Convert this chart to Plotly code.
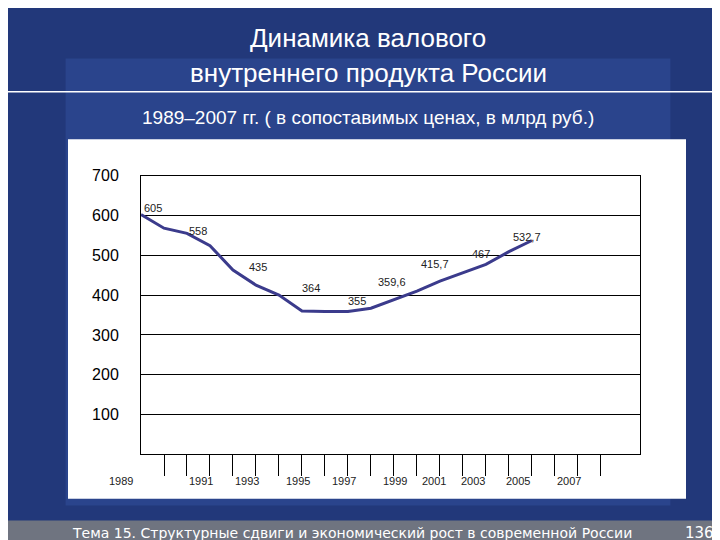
import plotly.graph_objects as go

years = list(range(1989, 2007))
gdp = [602, 568, 555, 524, 463, 425, 400, 360, 359, 359, 367, 389, 410, 435, 455, 477, 509, 537]

label_text = ["605", "558", "435", "364", "355", "359,6", "415,7", "467", "532,7"]
label_x = [1989.5, 1991.5, 1994.1, 1996.4, 1998.4, 1999.9, 2001.8, 2003.8, 2005.8]
label_y = [618, 562, 470, 418, 385, 433, 477, 503, 545]

year_labels = ["1989", "1991", "1993", "1995", "1997", "1999", "2001", "2003", "2005", "2007"]
year_label_px = [113, 193, 239, 290, 336, 387, 426, 465, 510, 561]

fig = go.Figure()
fig.add_trace(go.Scatter(x=years, y=gdp, mode="lines",
                         line=dict(color="#3b3b8c", width=3), hoverinfo="skip"))

for t, x, y in zip(label_text, label_x, label_y):
    fig.add_annotation(x=x, y=y, text=t, showarrow=False, xanchor="center", yanchor="middle",
                       font=dict(size=11, color="#222", family="Arial"))
for t, px in zip(year_labels, year_label_px):
    fig.add_annotation(x=px / 720, xref="paper", y=(540 - 472) / 540, yref="paper", text=t,
                       showarrow=False, xanchor="center", yanchor="middle",
                       font=dict(size=11, color="#222", family="Arial"))

# slide decoration
fig.add_shape(type="rect", xref="paper", yref="paper", x0=0, x1=1, y0=0, y1=1,
              fillcolor="#22387a", line_width=0, layer="below")
fig.add_shape(type="rect", xref="paper", yref="paper", x0=0.08, x1=0.92, y0=0.08, y1=0.92,
              fillcolor="#31509e", line_width=0, opacity=0.5, layer="below")
fig.add_shape(type="line", xref="paper", yref="paper", x0=0, x1=1, y0=(540 - 77) / 540, y1=(540 - 77) / 540,
              line=dict(color="white", width=1.5))
fig.add_shape(type="rect", xref="paper", yref="paper", x0=60/720, x1=678/720,
              y0=(540-490)/540, y1=(540-125)/540, fillcolor="white", line_width=0, layer="below")
fig.add_shape(type="rect", xref="paper", yref="paper", x0=0, x1=1, y0=0, y1=28/540,
              fillcolor="#6f7480", line_width=0, layer="below")

def slide_text(text, px, py, size, anchor="center", family="Arial"):
    fig.add_annotation(x=px / 720, y=(540 - py) / 540, xref="paper", yref="paper", showarrow=False,
                       xanchor=anchor, yanchor="middle", text=text,
                       font=dict(size=size, color="white", family=family))

slide_text("Динамика валового", 360, 22, 26)
slide_text("внутреннего продукта России", 360, 58, 26)
slide_text("1989–2007 гг. ( в сопоставимых ценах, в млрд руб.)", 360, 103, 19)
slide_text("Тема 15. Структурные сдвиги и экономический рост в современной России", 62, 525, 14,
           anchor="left", family="DejaVu Sans")
slide_text("136", 708, 525, 15, anchor="right", family="DejaVu Sans")

fig.update_layout(
    width=720, height=540, margin=dict(l=0, r=0, t=0, b=0),
    paper_bgcolor="#22387a", plot_bgcolor="white", showlegend=False,
    xaxis=dict(domain=[133/720, 632/720], range=[1989, 2010.7], tickvals=list(range(1990, 2010)),
               showticklabels=False, ticks="outside", ticklen=21, tickcolor="black",
               showgrid=False, zeroline=False, showline=True, linecolor="black", mirror=True),
    yaxis=dict(domain=[95/540, 378/540], range=[0, 700], tickvals=list(range(100, 701, 100)),
               ticks="", showgrid=True, gridcolor="black", gridwidth=1, zeroline=False,
               showline=True, linecolor="black", mirror=True, ticklabelstandoff=18,
               tickfont=dict(size=16, color="black", family="Arial")),
)

fig.write_html("out.html")
